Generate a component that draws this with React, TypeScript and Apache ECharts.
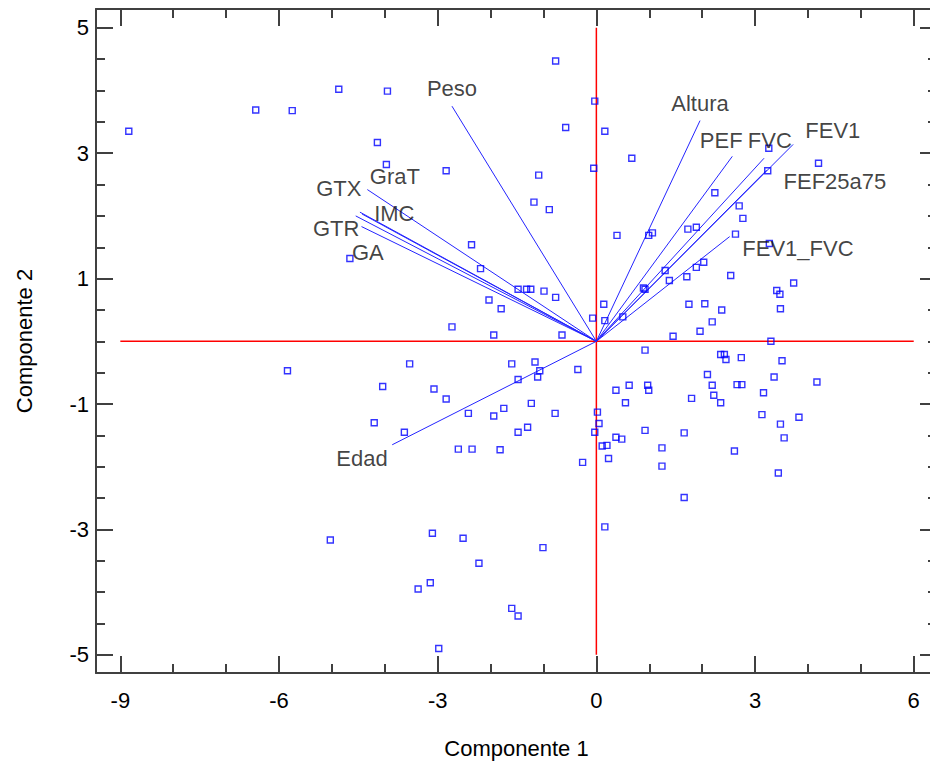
import React, { useEffect, useRef } from "react";
import * as echarts from "echarts";

const FONT = '"Liberation Sans", Arial, sans-serif';

// Axis ticks
const xMajorTicks = [-9, -6, -3, 0, 3, 6];
const xMinorTicks = [-9, -8, -7, -6, -5, -4, -3, -2, -1, 0, 1, 2, 3, 4, 5, 6];
const yMajorTicks = [-5, -3, -1, 1, 3, 5];
const yMinorTicks = [-5, -4.5, -4, -3.5, -3, -2.5, -2, -1.5, -1, -0.5, 0, 0.5, 1, 1.5, 2, 2.5, 3, 3.5, 4, 4.5, 5];

// Observation scores (Componente 1, Componente 2)
const scoreX = [
  -8.84, -6.44, -5.75, -4.87, -3.95, -0.77, -0.03, -0.58, 0.16, -4.14,
  -3.97, -2.84, -1.09, -0.05, -1.18, -0.89, 0.39, -2.36, -4.66, 0.67,
  3.26, 3.24, 4.2, 2.24, 2.7, 2.77, 0.99, 1.06, 1.73, 1.89,
  2.63, 3.27, -2.19, -1.48, -1.32, -1.24, -0.99, -0.77, -2.03, -1.8,
  -2.73, -1.94, -0.65, -0.07, 0.14, 0.16, -3.53, -1.6, -1.16, -1.07,
  -1.11, -1.48, -0.35, -4.04, -3.07, -2.84, 0.37, -2.42, -1.94, -1.75,
  -1.23, -0.78, 0.02, 0.05, -0.03, -4.2, -3.63, -1.48, -1.3, -2.61,
  -2.35, -1.82, 0.11, 0.2, 0.37, 0.23, -0.26, -5.84, 0.5, 0.92,
  0.89, 1.3, 1.38, 1.71, 1.89, 2.03, 2.54, 3.73, 3.41, 3.47,
  3.48, 1.75, 2.05, 2.37, 2.19, 1.96, 1.45, 3.3, 0.92, 2.35,
  2.42, 2.45, 2.74, 3.51, 2.1, 3.36, 4.17, 0.62, 0.97, 0.99,
  2.19, 2.66, 2.75, 2.22, 2.35, 1.8, 0.55, 3.16, 3.13, 3.83,
  3.48, 3.55, 0.92, 1.66, 0.48, 1.24, 1.24, 2.61, 3.44, 1.66,
  -5.03, -3.1, -2.52, -1.01, 0.16, -2.22, -3.14, -3.37, -1.6, -1.48,
  -2.98,
];
const scoreY = [
  3.35, 3.69, 3.68, 4.02, 3.99, 4.47, 3.83, 3.41, 3.35, 3.17,
  2.82, 2.72, 2.65, 2.76, 2.22, 2.1, 1.69, 1.54, 1.32, 2.92,
  3.08, 2.72, 2.84, 2.37, 2.16, 1.96, 1.69, 1.73, 1.79, 1.82,
  1.71, 1.56, 1.16, 0.83, 0.83, 0.83, 0.8, 0.7, 0.66, 0.52,
  0.23, 0.1, 0.1, 0.37, 0.59, 0.33, -0.36, -0.36, -0.33, -0.47,
  -0.57, -0.61, -0.45, -0.72, -0.76, -0.92, -0.78, -1.15, -1.19, -1.07,
  -0.99, -1.15, -1.13, -1.31, -1.45, -1.3, -1.45, -1.45, -1.37, -1.72,
  -1.72, -1.73, -1.67, -1.66, -1.53, -1.87, -1.93, -0.47, 0.39, 0.83,
  0.85, 1.13, 0.97, 1.03, 1.18, 1.26, 1.05, 0.93, 0.81, 0.75,
  0.52, 0.59, 0.6, 0.5, 0.31, 0.16, 0.08, 0.0, -0.14, -0.21,
  -0.21, -0.29, -0.26, -0.31, -0.53, -0.57, -0.65, -0.7, -0.7, -0.78,
  -0.7, -0.69, -0.69, -0.86, -0.98, -0.91, -0.98, -0.82, -1.17, -1.21,
  -1.32, -1.54, -1.42, -1.46, -1.56, -1.7, -1.99, -1.75, -2.1, -2.49,
  -3.17, -3.06, -3.14, -3.29, -2.96, -3.54, -3.85, -3.95, -4.26, -4.38,
  -4.9,
];

// Variable vectors (loadings, scaled)
const varNames = ["Peso", "Altura", "PEF", "FVC", "FEV1", "FEF25a75", "FEV1_FVC", "Edad", "GTX", "GraT", "IMC", "GTR", "GA"];
const varX = [-2.73, 1.96, 2.57, 3.17, 3.72, 3.22, 2.52, -3.86, -4.33, -4.47, -4.43, -4.55, -4.44];
const varY = [3.75, 3.52, 2.95, 2.92, 3.14, 2.73, 1.67, -1.65, 2.42, 2.06, 2.03, 2.0, 1.83];
// Label anchor positions (data coords, label centre)
const labelX = [-2.73, 1.96, 2.36, 3.28, 4.47, 4.51, 3.81, -4.43, -4.87, -3.81, -3.82, -4.92, -4.32];
const labelY = [4.03, 3.79, 3.2, 3.2, 3.36, 2.55, 1.48, -1.87, 2.44, 2.63, 2.04, 1.8, 1.41];

// Reference lines
const refH = [[-9, 0], [6, 0]];
const refV = [[0, -5], [0, 5]];

const X_MIN = -9.46;
const X_MAX = 6.44;
const Y_MIN = -5.29;
const Y_MAX = 5.3;

export default function App() {
  const ref = useRef<HTMLDivElement>(null);
  useEffect(() => {
    if (!ref.current) return;
    const chart = echarts.init(ref.current, undefined, { renderer: "svg" });
    const axisColor = "#404040";
    const mkX = (position: string, ticks: number[], len: number, main: boolean) => ({
      type: "value",
      position,
      min: X_MIN,
      max: X_MAX,
      axisLine: { show: main, onZero: false, lineStyle: { color: axisColor, width: 2 } },
      axisTick: { show: true, inside: true, length: len, customValues: ticks, lineStyle: { color: axisColor, width: 2 } },
      axisLabel: position === "bottom" && main
        ? { show: true, customValues: xMajorTicks, margin: 16, fontSize: 22, color: "#000", fontFamily: FONT }
        : { show: false },
      splitLine: { show: false },
      ...(position === "bottom" && main
        ? {
            name: "Componente 1",
            nameLocation: "middle",
            nameGap: 64,
            nameTextStyle: { fontSize: 22, color: "#000", fontFamily: FONT },
          }
        : {}),
    });
    const mkY = (position: string, ticks: number[], len: number, main: boolean) => ({
      type: "value",
      position,
      min: Y_MIN,
      max: Y_MAX,
      axisLine: { show: main, onZero: false, lineStyle: { color: axisColor, width: 2 } },
      axisTick: { show: true, inside: true, length: len, customValues: ticks, lineStyle: { color: axisColor, width: 2 } },
      axisLabel: position === "left" && main
        ? { show: true, customValues: yMajorTicks, margin: 7, fontSize: 22, color: "#000", fontFamily: FONT }
        : { show: false },
      splitLine: { show: false },
      ...(position === "left" && main
        ? {
            name: "Componente 2",
            nameLocation: "middle",
            nameGap: 61,
            nameRotate: 90,
            nameTextStyle: { fontSize: 22, color: "#000", fontFamily: FONT },
          }
        : {}),
    });

    const vectorSeries = varNames.map((n, i) => ({
      type: "line",
      name: n,
      data: [[0, 0], [varX[i], varY[i]]],
      symbol: "none",
      lineStyle: { color: "#2424ff", width: 1 },
      z: 3,
      silent: true,
    }));

    chart.setOption({
      animation: false,
      backgroundColor: "#ffffff",
      grid: { left: 96, top: 9, width: 841, height: 664, containLabel: false, outerBoundsMode: "none" },
      xAxis: [
        mkX("bottom", xMajorTicks, 17, true),
        mkX("bottom", xMinorTicks, 9, false),
        mkX("top", xMajorTicks, 17, true),
        mkX("top", xMinorTicks, 9, false),
      ],
      yAxis: [
        mkY("left", yMajorTicks, 17, true),
        mkY("left", yMinorTicks, 9, false),
        mkY("right", yMajorTicks, 17, true),
        mkY("right", yMinorTicks, 9, false),
      ],
      series: [
        {
          type: "line",
          data: refH,
          symbol: "none",
          lineStyle: { color: "#ff0000", width: 1.5 },
          z: 2,
          silent: true,
        },
        {
          type: "line",
          data: refV,
          symbol: "none",
          lineStyle: { color: "#ff0000", width: 1.5 },
          z: 2,
          silent: true,
        },
        ...vectorSeries,
        {
          type: "scatter",
          data: scoreX.map((x, i) => [x, scoreY[i]]),
          symbol: "rect",
          symbolSize: 6,
          itemStyle: { color: "rgba(0,0,0,0)", borderColor: "#0000ff", borderWidth: 1.4 },
          z: 4,
          silent: true,
        },
        {
          type: "scatter",
          data: varNames.map((n, i) => ({ name: n, value: [labelX[i], labelY[i]] })),
          symbol: "circle",
          symbolSize: 1,
          itemStyle: { color: "rgba(0,0,0,0)" },
          label: {
            show: true,
            position: "inside",
            formatter: (p: any) => p.name,
            fontSize: 22,
            color: "#111",
            fontFamily: FONT,
          },
          z: 5,
          silent: true,
        },
      ],
    });
    return () => chart.dispose();
  }, []);
  return (
    <div
      ref={ref}
      style={{ position: "fixed", left: 0, top: 0, width: 930, height: 763, background: "#fff" }}
    />
  );
}
